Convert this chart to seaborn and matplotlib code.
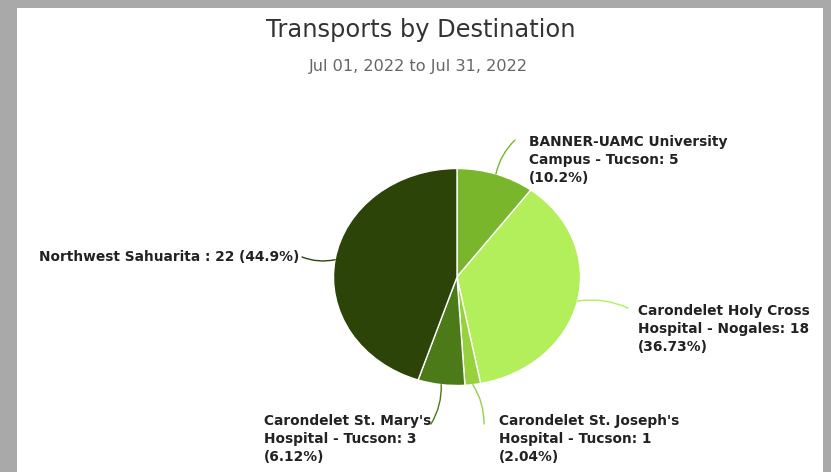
import matplotlib.pyplot as plt
import matplotlib.patches as mpatches
import seaborn as sns
import numpy as np

# Datos del gráfico
destinos = [
    "BANNER-UAMC University\nCampus - Tucson",
    "Carondelet Holy Cross\nHospital - Nogales",
    "Carondelet St. Joseph's\nHospital - Tucson",
    "Carondelet St. Mary's\nHospital - Tucson",
    "Northwest Sahuarita ",
]
traslados = [5, 18, 1, 3, 22]
colores = ["#7ab62c", "#b2ef5a", "#97d13e", "#4c7a18", "#2d4409"]

# posición del texto (px de figura, arriba-izquierda) y final de la guía
pos_texto = [(529, 135), (638, 304), (499, 414), (264, 414), (299, 257)]
fin_guia = [(515, 140), (628, 308), (484, 424), (431, 424), (302, 257)]

sns.set_style("white")
plt.rcParams['font.family'] = ['DejaVu Sans']

W, H = 831, 472
fig = plt.figure(figsize=(W / 100, H / 100), dpi=100)
fig.patch.set_facecolor("#a9a9a9")
fig.patches.append(mpatches.Rectangle((17 / W, 0), (823 - 17) / W, (H - 8) / H,
                                      transform=fig.transFigure, facecolor="white",
                                      edgecolor="none", zorder=-5))

# ejes del pastel (algo achatado como en la imagen)
cx, cy, rx, ry = 457, 277, 123.5, 108.5
ax = fig.add_axes([(cx - rx) / W, (H - cy - ry) / H, 2 * rx / W, 2 * ry / H])
ax.patch.set_alpha(0)
wedges, _ = ax.pie(traslados, colors=colores, startangle=90, counterclock=False,
                   wedgeprops=dict(edgecolor="white", linewidth=1))
ax.set_aspect("auto")
ax.set_xlim(-1, 1)
ax.set_ylim(-1, 1)

total = sum(traslados)
for i, w in enumerate(wedges):
    pct = round(traslados[i] / total * 100, 2)
    ang = np.deg2rad((w.theta1 + w.theta2) / 2)
    borde = (np.cos(ang), np.sin(ang))
    ex, ey = fin_guia[i]
    ax.annotate("", xy=borde, xycoords="data", xytext=(ex, H - ey),
                textcoords="figure pixels",
                arrowprops=dict(arrowstyle="-", color=colores[i], lw=1,
                                connectionstyle="arc3,rad=0.15", shrinkA=0, shrinkB=0),
                annotation_clip=False)
    tx, ty = pos_texto[i]
    if i == 4:
        etiqueta = f"{destinos[i]}: {traslados[i]} ({pct:g}%)"
        fig.text(tx / W, 1 - ty / H, etiqueta, ha="right", va="center",
                 fontsize=9.9, fontweight="bold", color="#222222")
    else:
        etiqueta = f"{destinos[i]}: {traslados[i]}\n({pct:g}%)"
        fig.text(tx / W, 1 - ty / H, etiqueta, ha="left", va="top",
                 fontsize=9.9, fontweight="bold", color="#222222", linespacing=1.35)

fig.text(421 / W, 1 - 30 / H, "Transports by Destination", ha="center", va="center",
         fontsize=17.4, color="#333333")
fig.text(418 / W, 1 - 66 / H, "Jul 01, 2022 to Jul 31, 2022", ha="center", va="center",
         fontsize=11.6, color="#666666")

fig.savefig("out.png", dpi=100, facecolor=fig.get_facecolor())
